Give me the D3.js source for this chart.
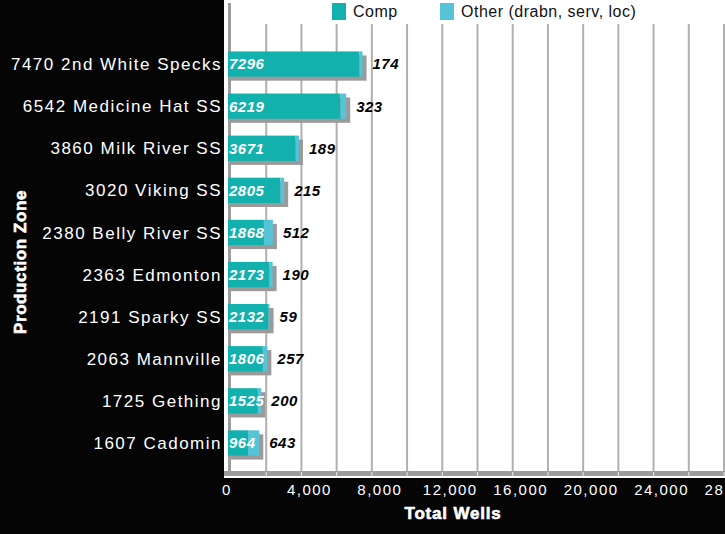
<!DOCTYPE html>
<html>
<head>
<meta charset="utf-8">
<script src="https://cdn.jsdelivr.net/npm/d3@7"></script>
<style>
  body { margin: 0; background: #050505; }
  text { font-family: "Liberation Sans", Arial, sans-serif; }
</style>
</head>
<body>
<div id="myChart"></div>
<script>
// data
let zones = ["2nd White Specks", "Medicine Hat SS", "Milk River SS", "Viking SS",
             "Belly River SS", "Edmonton", "Sparky SS", "Mannville", "Gething", "Cadomin"];
let comp  = [7296, 6219, 3671, 2805, 1868, 2173, 2132, 1806, 1525, 964];
let other = [174, 323, 189, 215, 512, 190, 59, 257, 200, 643];
let seriesNames = ["Comp", "Other (drabn, serv, loc)"];
let xTicks = [0, 4000, 8000, 12000, 16000, 20000, 24000, 28000];

let colors = ["#13b1ad", "#56c3d6"];

let width = 725, height = 534;

let data = zones.map(function (z, i) {
    return { zone: z, comp: comp[i], other: other[i], total: comp[i] + other[i] };
});

let svg = d3.select("#myChart")
    .append("svg")
        .attr("width", width)
        .attr("height", height);

svg.append("rect")
    .attr("width", width).attr("height", height)
    .attr("fill", "#050505");

// white plot panel
svg.append("rect")
    .attr("x", 224).attr("y", 0)
    .attr("width", width - 224).attr("height", 478)
    .attr("fill", "#ffffff");

let x = d3.scaleLinear()
    .domain([0, 28000])
    .range([231, 724]);

let y = d3.scaleBand()
    .domain(zones)
    .range([43, 464])
    .paddingInner(0.4)
    .paddingOuter(0.2);

// gridlines every 2000
svg.append("g")
    .selectAll("line")
    .data(d3.range(2000, 28001, 2000))
    .enter()
    .append("line")
        .attr("x1", function (d) { return x(d); })
        .attr("x2", function (d) { return x(d); })
        .attr("y1", 24)
        .attr("y2", 472)
        .attr("stroke", "#b0b0b0")
        .attr("stroke-width", 2);

// bottom axis band
svg.append("rect")
    .attr("x", 224).attr("y", 471)
    .attr("width", width - 224).attr("height", 5)
    .attr("fill", "#9c9c9c");

svg.append("g")
    .selectAll("line")
    .data(d3.range(2000, 28001, 2000))
    .enter()
    .append("line")
        .attr("x1", function (d) { return x(d); })
        .attr("x2", function (d) { return x(d); })
        .attr("y1", 472)
        .attr("y2", 476)
        .attr("stroke", "#e8e8e8")
        .attr("stroke-width", 1);

// left axis line
svg.append("rect")
    .attr("x", x(0) - 3).attr("y", 3)
    .attr("width", 3).attr("height", 470)
    .attr("fill", "#9c9c9c");

// x tick labels
svg.append("g")
    .selectAll("text")
    .data(xTicks)
    .enter()
    .append("text")
        .attr("x", function (d) { return d === 0 ? x(d) - 4 : x(d) + 8; })
        .attr("y", 495)
        .attr("text-anchor", "middle")
        .attr("fill", "#ffffff")
        .style("font-size", "15px")
        .style("letter-spacing", "1.5px")
        .text(function (d) { return d3.format(",")(d); });

let rows = svg.append("g")
    .selectAll("g")
    .data(data)
    .enter()
    .append("g")
        .attr("transform", function (d) { return "translate(0," + y(d.zone) + ")"; });

let bh = y.bandwidth();

// shadow
rows.append("rect")
    .attr("x", x(0))
    .attr("y", 4)
    .attr("width", function (d) { return x(d.total) - x(0) + 4; })
    .attr("height", bh)
    .attr("fill", "#9a9a9a");

rows.append("rect")
    .attr("x", x(0) - 3)
    .attr("y", 0)
    .attr("width", function (d) { return x(d.comp) - x(0) + 3; })
    .attr("height", bh)
    .attr("fill", colors[0]);

rows.append("rect")
    .attr("x", function (d) { return x(d.comp); })
    .attr("y", 0)
    .attr("width", function (d) { return x(d.total) - x(d.comp); })
    .attr("height", bh)
    .attr("fill", colors[1]);

// comp value inside bar
rows.append("text")
    .attr("x", x(0) - 2)
    .attr("y", bh / 2)
    .attr("dy", "0.36em")
    .attr("fill", "#ffffff")
    .style("font-size", "15px")
    .style("font-weight", "bold")
    .style("font-style", "italic")
    .style("letter-spacing", "0.5px")
    .text(function (d) { return d.comp; });

// other value after bar
rows.append("text")
    .attr("x", function (d) { return x(d.total) + 10; })
    .attr("y", bh / 2)
    .attr("dy", "0.36em")
    .attr("fill", "#000000")
    .style("font-size", "15px")
    .style("font-weight", "bold")
    .style("font-style", "italic")
    .style("letter-spacing", "0.5px")
    .text(function (d) { return d.other; });

// category labels (total + zone)
rows.append("text")
    .attr("x", 222)
    .attr("y", bh / 2)
    .attr("dy", "0.36em")
    .attr("text-anchor", "end")
    .attr("fill", "#ffffff")
    .style("font-size", "17px")
    .style("letter-spacing", "1.5px")
    .text(function (d) { return d.total + " " + d.zone; });

// legend
let legend = svg.append("g")
    .selectAll("g")
    .data(seriesNames)
    .enter()
    .append("g")
        .attr("transform", function (d, i) { return "translate(" + (i === 0 ? 332 : 440) + ",3)"; });

legend.append("rect")
    .attr("width", 14).attr("height", 17)
    .attr("fill", function (d, i) { return colors[i]; });

legend.append("text")
    .attr("x", 21)
    .attr("y", 14)
    .attr("fill", "#111111")
    .style("font-size", "16px")
    .style("letter-spacing", "0.5px")
    .text(function (d) { return d; });

// axis titles
svg.append("text")
    .attr("x", 453)
    .attr("y", 519)
    .attr("text-anchor", "middle")
    .attr("fill", "#ffffff")
    .attr("stroke", "#ffffff")
    .attr("stroke-width", 0.6)
    .style("font-size", "17px")
    .style("font-weight", "bold")
    .style("letter-spacing", "0.8px")
    .text("Total Wells");

svg.append("text")
    .attr("transform", "translate(26,262) rotate(-90)")
    .attr("text-anchor", "middle")
    .attr("fill", "#ffffff")
    .attr("stroke", "#ffffff")
    .attr("stroke-width", 0.6)
    .style("font-size", "17px")
    .style("font-weight", "bold")
    .style("letter-spacing", "0.6px")
    .text("Production Zone");
</script>
</body>
</html>
